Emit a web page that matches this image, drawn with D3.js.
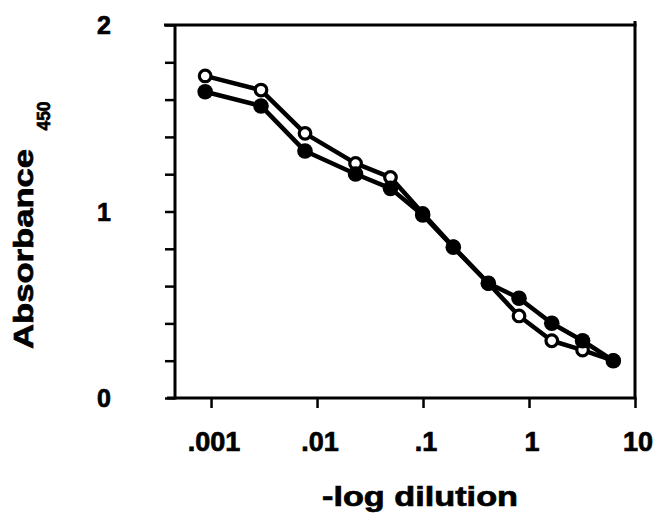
<!DOCTYPE html>
<html>
<head>
<meta charset="utf-8">
<script src="https://cdn.jsdelivr.net/npm/d3@7"></script>
<style>
  html, body { margin: 0; padding: 0; background: #fff; }
  svg { display: block; }
  text { font-family: "Liberation Sans", Arial, Helvetica, sans-serif; font-weight: bold; fill: #000; stroke: #000; stroke-width: 0.7px; }
</style>
</head>
<body>
<script>
// Data
const dilutions = [0.00088, 0.00296, 0.0077, 0.0231, 0.0493, 0.0993, 0.193, 0.413, 0.805, 1.64, 3.2, 6.24];
const openValues = [1.727, 1.651, 1.419, 1.258, 1.183, 0.990, 0.811, 0.615, 0.440, 0.307, 0.257, 0.200];
const filledValues = [1.642, 1.566, 1.324, 1.201, 1.124, 0.981, 0.808, 0.615, 0.535, 0.401, 0.307, 0.200];
const xTickValues = [0.001, 0.01, 0.1, 1, 10];
const xTickLabels = [".001", ".01", ".1", "1", "10"];
const yMinorTicks = [0, 0.2, 0.4, 0.6, 0.8, 1.0, 1.2, 1.4, 1.6, 1.8, 2.0];
const yTickLabels = ["0", "1", "2"];
const yTickLabelValues = [0, 1, 2];

const W = 663, H = 526;
const pLeft = 175, pRight = 635, pTop = 25, pBottom = 398;

const svg = d3.select("body").append("svg").attr("width", W).attr("height", H);

const x = d3.scaleLog().domain([0.000457, 10]).range([pLeft, pRight]);
const y = d3.scaleLinear().domain([0, 2]).range([pBottom, pTop]);

// Frame
const frame = svg.append("g").attr("stroke", "#000").attr("stroke-width", 3).attr("fill", "none");
frame.append("line").attr("x1", 164).attr("x2", pRight + 1.5).attr("y1", pTop).attr("y2", pTop);
frame.append("line").attr("x1", pRight).attr("x2", pRight).attr("y1", pTop - 4).attr("y2", pBottom);
frame.append("line").attr("x1", 167).attr("x2", pRight + 1.5).attr("y1", pBottom).attr("y2", pBottom);
frame.append("line").attr("x1", pLeft).attr("x2", pLeft).attr("y1", pTop).attr("y2", pBottom + 1.5);

// Y axis (ticks outward to the left)
const yAxis = d3.axisLeft(y).tickValues(yMinorTicks).tickSize(10).tickFormat("");
const gy = svg.append("g").attr("transform", `translate(${pLeft},0)`).call(yAxis);
gy.select(".domain").remove();
gy.selectAll(".tick line").attr("stroke", "#000").attr("stroke-width", 2.5);

svg.append("g").selectAll("text").data(yTickLabelValues).join("text")
  .attr("x", 111).attr("y", d => y(d) + 9)
  .attr("text-anchor", "end").attr("font-size", 25)
  .text((d, i) => yTickLabels[i]);

// X axis (ticks outward, downward)
const xAxis = d3.axisBottom(x).tickValues(xTickValues).tickSize(10).tickFormat("");
const gx = svg.append("g").attr("transform", `translate(0,${pBottom})`).call(xAxis);
gx.select(".domain").remove();
gx.selectAll(".tick line").attr("stroke", "#000").attr("stroke-width", 2.5);

svg.append("g").selectAll("text").data(xTickValues).join("text")
  .attr("x", d => x(d) + 3).attr("y", 451)
  .attr("text-anchor", "middle").attr("font-size", 27)
  .text((d, i) => xTickLabels[i]);

// Axis titles
svg.append("text")
  .attr("x", 420).attr("y", 506)
  .attr("text-anchor", "middle").attr("font-size", 28)
  .attr("textLength", 196).attr("lengthAdjust", "spacingAndGlyphs")
  .text("-log dilution");

svg.append("text")
  .attr("transform", "translate(33,249) rotate(-90)")
  .attr("text-anchor", "middle").attr("font-size", 28)
  .attr("textLength", 200).attr("lengthAdjust", "spacingAndGlyphs")
  .text("Absorbance");
svg.append("text")
  .attr("transform", "translate(50,116) rotate(-90)")
  .attr("text-anchor", "middle").attr("font-size", 18)
  .attr("textLength", 29).attr("lengthAdjust", "spacingAndGlyphs")
  .text("450");

// Series
const line = d3.line().x(d => x(d[0])).y(d => y(d[1]));
const openData = dilutions.map((d, i) => [d, openValues[i]]);
const filledData = dilutions.map((d, i) => [d, filledValues[i]]);

svg.append("path").datum(openData).attr("d", line)
  .attr("fill", "none").attr("stroke", "#000").attr("stroke-width", 4.5).attr("stroke-linejoin", "round");
svg.append("path").datum(filledData).attr("d", line)
  .attr("fill", "none").attr("stroke", "#000").attr("stroke-width", 4.5).attr("stroke-linejoin", "round");

svg.append("g").selectAll("circle").data(openData).join("circle")
  .attr("cx", d => x(d[0])).attr("cy", d => y(d[1])).attr("r", 5.8)
  .attr("fill", "#fff").attr("stroke", "#000").attr("stroke-width", 3.2);

svg.append("g").selectAll("circle").data(filledData).join("circle")
  .attr("cx", d => x(d[0])).attr("cy", d => y(d[1])).attr("r", 7.8)
  .attr("fill", "#000");
</script>
</body>
</html>
